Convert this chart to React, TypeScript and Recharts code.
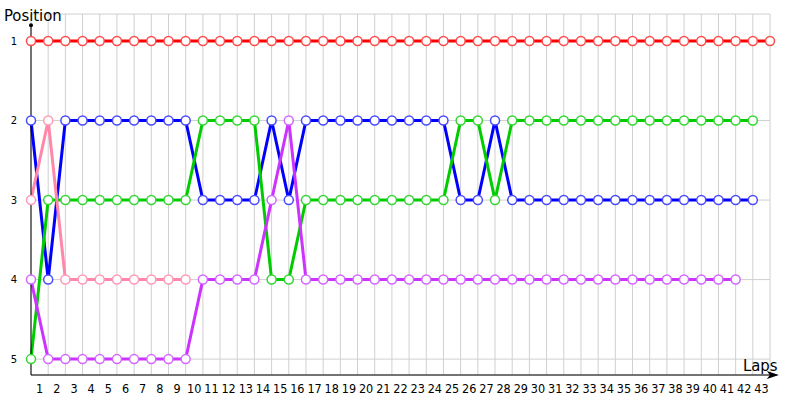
import React from 'react';
import {
  LineChart,
  Line,
  XAxis,
  YAxis,
  CartesianGrid,
  ReferenceLine,
  ReferenceDot
} from 'recharts';

const laps = [
  0, 1, 2, 3, 4, 5, 6, 7, 8, 9, 10, 11, 12, 13, 14, 15, 16, 17, 18, 19, 20, 21,
  22, 23, 24, 25, 26, 27, 28, 29, 30, 31, 32, 33, 34, 35, 36, 37, 38, 39, 40, 41, 42, 43
];
const positions = [1, 2, 3, 4, 5];

const red = [
  1, 1, 1, 1, 1, 1, 1, 1, 1, 1, 1, 1, 1, 1, 1, 1, 1, 1, 1, 1, 1, 1,
  1, 1, 1, 1, 1, 1, 1, 1, 1, 1, 1, 1, 1, 1, 1, 1, 1, 1, 1, 1, 1, 1
];
const blue = [
  2, 4, 2, 2, 2, 2, 2, 2, 2, 2, 3, 3, 3, 3, 2, 3, 2, 2, 2, 2, 2, 2,
  2, 2, 2, 3, 3, 2, 3, 3, 3, 3, 3, 3, 3, 3, 3, 3, 3, 3, 3, 3, 3
];
const green = [
  5, 3, 3, 3, 3, 3, 3, 3, 3, 3, 2, 2, 2, 2, 4, 4, 3, 3, 3, 3, 3, 3,
  3, 3, 3, 2, 2, 3, 2, 2, 2, 2, 2, 2, 2, 2, 2, 2, 2, 2, 2, 2, 2
];
const pink = [3, 2, 4, 4, 4, 4, 4, 4, 4, 4];
const purple = [
  4, 5, 5, 5, 5, 5, 5, 5, 5, 5, 4, 4, 4, 4, 3, 2, 4, 4, 4, 4, 4, 4,
  4, 4, 4, 4, 4, 4, 4, 4, 4, 4, 4, 4, 4, 4, 4, 4, 4, 4, 4, 4
];

const series = [
  { key: 'red', values: red, line: '#ff0000', dot: '#ff4a4a' },
  { key: 'blue', values: blue, line: '#0000ff', dot: '#4a4aff' },
  { key: 'green', values: green, line: '#00cc00', dot: '#33d633' },
  { key: 'pink', values: pink, line: '#ff88aa', dot: '#ff99b8' },
  { key: 'purple', values: purple, line: '#cc33ff', dot: '#d466ff' }
];

const data = laps.map((lap, i) => {
  const row: Record<string, number> = { lap };
  series.forEach(s => {
    if (i < s.values.length) row[s.key] = s.values[i];
  });
  return row;
});

const font = '"DejaVu Sans", Verdana, sans-serif';
const tickFont = '"DejaVu Sans Condensed", "Liberation Sans", sans-serif';

const LapTick = (props: any) => {
  const { x, y, payload } = props;
  if (payload.value === 0) return <g />;
  return (
    <text x={x - 8.6} y={y} dy={10} textAnchor="middle" fontSize={12.5} fontFamily={tickFont} fill="#000">
      {payload.value}
    </text>
  );
};

const LeftTick = (props: any) => {
  const { y, payload } = props;
  return (
    <text x={17} y={y} dy={3.5} textAnchor="end" fontSize={10} fontFamily={font} fill="#000">
      {payload.value}
    </text>
  );
};

const RightTick = (props: any) => {
  const { y, payload } = props;
  return (
    <text x={776} y={y} dy={3.5} textAnchor="start" fontSize={10} fontFamily={font} fill="#000">
      {payload.value}
    </text>
  );
};

const Arrow = (props: any) => {
  const { cx, cy } = props;
  return <path d={`M${cx + 2},${cy} L${cx - 10},${cy - 4} L${cx - 7},${cy} L${cx - 10},${cy + 4} Z`} fill="#000" />;
};

export default function App() {
  return (
    <div style={{ position: 'absolute', left: 0, top: 0 }}>
      <LineChart width={800} height={400} data={data} margin={{ top: 14, right: 0, bottom: 0, left: 0 }}>
        <CartesianGrid yAxisId="l" stroke="#d0d0d0" />
        <XAxis
          dataKey="lap"
          type="number"
          domain={[0, 43]}
          ticks={laps}
          interval={0}
          tick={<LapTick />}
          tickLine={false}
          axisLine={false}
          height={25}
        />
        <YAxis
          yAxisId="l"
          type="number"
          domain={[0.66, 5.2]}
          reversed
          ticks={positions}
          tick={<LeftTick />}
          tickLine={false}
          axisLine={false}
          width={31}
        />
        <YAxis
          yAxisId="r"
          orientation="right"
          type="number"
          domain={[0.66, 5.2]}
          reversed
          ticks={positions}
          tick={<RightTick />}
          tickLine={false}
          axisLine={false}
          width={30}
        />
        {series.map(s => (
          <Line
            key={s.key}
            yAxisId="l"
            dataKey={s.key}
            type="linear"
            stroke={s.line}
            strokeWidth={3}
            dot={{ r: 4.5, fill: '#fff', stroke: s.dot, strokeWidth: 1.5 }}
            activeDot={false}
            isAnimationActive={false}
          />
        ))}
        <ReferenceLine
          yAxisId="l"
          segment={[{ x: 0, y: 0.8 }, { x: 0, y: 5.2 }]}
          stroke="#000"
          strokeWidth={1}
          ifOverflow="visible"
        />
        <ReferenceLine
          yAxisId="l"
          segment={[{ x: 0, y: 5.2 }, { x: 43.4, y: 5.2 }]}
          stroke="#000"
          strokeWidth={1}
          ifOverflow="visible"
        />
        <ReferenceDot yAxisId="l" x={0} y={0.8} r={2} fill="#000" stroke="none" ifOverflow="visible" />
        <ReferenceDot yAxisId="l" x={43.4} y={5.2} shape={<Arrow />} ifOverflow="visible" />
        <text x={4} y={21} fontSize={16.5} fontFamily={tickFont} fill="#000">Position</text>
        <text x={743} y={371} fontSize={16.5} fontFamily={tickFont} fill="#000">Laps</text>
      </LineChart>
    </div>
  );
}
